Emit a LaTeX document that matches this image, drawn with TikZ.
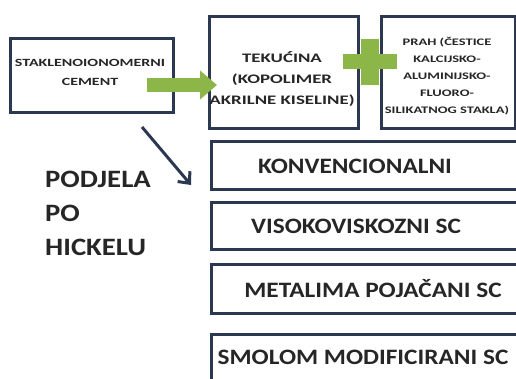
\documentclass[tikz,border=0pt]{standalone}
\usepackage{fontspec}
\setmainfont{Carlito}
\newfontfamily\sirok[FakeStretch=1.15]{Carlito}
\newfontfamily\vrlosirok[FakeStretch=1.45]{Carlito}
\usepackage{tikz}
\usetikzlibrary{arrows.meta}
\definecolor{okvir}{RGB}{44,56,82}
\definecolor{zelena}{RGB}{141,182,72}

\begin{document}
\begin{tikzpicture}[x=1pt,y=-1pt,
		box/.style={draw=okvir,line width=2.6pt,fill=white,rectangle,inner sep=0pt,anchor=north west},
		malo/.style={align=center,inner sep=0pt,text=black!85,font=\vrlosirok\bfseries\fontsize{10}{17}\selectfont},
		veliko/.style={inner sep=0pt,text=black!85,font=\sirok\bfseries\fontsize{22}{26}\selectfont}]
				\useasboundingbox (0,0) rectangle (516,379);
				\clip (0,0) rectangle (516,379);

				\node (stak) [box,minimum width=163pt,minimum height=74pt] at (9,37) {};
				\node (teku) [box,minimum width=149pt,minimum height=112pt] at (208,15) {};
				\node (prah) [box,minimum width=134pt,minimum height=112pt] at (380,15) {};
				\node (k1) [box,minimum width=310pt,minimum height=48pt] at (210,140) {};
				\node (k2) [box,minimum width=310pt,minimum height=47pt] at (210,201) {};
				\node (k3) [box,minimum width=310pt,minimum height=49pt] at (210,263) {};
				\node (k4) [box,minimum width=310pt,minimum height=55pt] at (210,333) {};

				\node (staktxt) [malo,font=\vrlosirok\bfseries\fontsize{11}{19}\selectfont] at (90,72.5) {STAKLENOIONOMERNI\\CEMENT};
				\node (tekutxt) [malo,font=\vrlosirok\bfseries\fontsize{13}{21}\selectfont] at (282,79) {TEKUĆINA\\(KOPOLIMER\\AKRILNE KISELINE)};
				\node (prahtxt) [malo] at (447,76.5) {PRAH (ČESTICE\\KALCIJSKO-\\ALUMINIJSKO-\\FLUORO-\\SILIKATNOG STAKLA)};

				\node (k1txt) [veliko] at (355,166) {KONVENCIONALNI};
				\node (k2txt) [veliko] at (356,226) {VISOKOVISKOZNI SC};
				\node (k3txt) [veliko] at (373,289) {METALIMA POJAČANI SC};
				\node (k4txt) [veliko] at (363,357) {SMOLOM MODIFICIRANI SC};

				\node (podjela) [veliko,align=left,anchor=west,font=\sirok\bfseries\fontsize{25}{34}\selectfont] at (45,213) {PODJELA\\PO\\HICKELU};

				\coordinate (plus) at (370,62);
				\fill [zelena] ([xshift=-27pt,yshift=7.5pt]plus) rectangle ([xshift=27pt,yshift=-7.5pt]plus);
				\fill [zelena] ([xshift=-9pt,yshift=23pt]plus) rectangle ([xshift=9pt,yshift=-23pt]plus);

				\coordinate (gs) at (147,85);
				\draw [zelena,line width=14pt,-{Triangle[length=17pt,width=28pt]},shorten >=-9pt] (gs) -- (gs -| teku.west);

				\coordinate (p) at (142,127);
				\coordinate (q) at (191,185);
				\draw [okvir,line width=3pt,-{Straight Barb[length=9pt,width=16pt]}] (p) -- (q);
			\end{tikzpicture}
\end{document}
